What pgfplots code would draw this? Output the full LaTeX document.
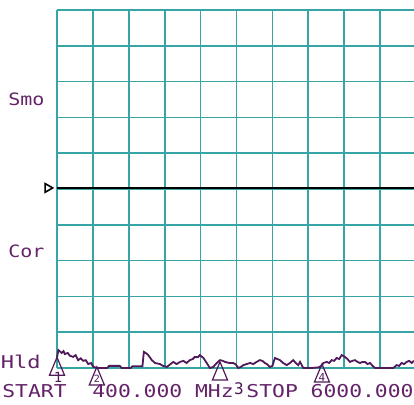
\documentclass[border=0pt]{standalone}
\usepackage{graphicx}
\usepackage{pgfplots}
\pgfplotsset{compat=1.18}
\usepackage{fontspec}
\newfontfamily\mono{DejaVu Sans Mono}
\definecolor{gridc}{RGB}{55,165,165}
\definecolor{txt}{RGB}{100,35,105}
\definecolor{trace}{RGB}{80,25,90}
\begin{document}
\begin{tikzpicture}
\path[use as bounding box] (-28.5pt,-18pt) rectangle (178.5pt,184pt);
\begin{axis}[
  anchor=origin, at={(0pt,0pt)},
  x=17.95pt, y=17.9pt,
  xmin=0, xmax=9.94, ymin=0, ymax=10,
  xtick={0,...,9}, ytick={0,...,10},
  xticklabels={}, yticklabels={},
  tick style={draw=none},
  axis line style={draw=none},
  grid=major,
  major grid style={draw=gridc, line width=0.85pt},
  clip=false,
]
\addplot[black, line width=1pt] coordinates {(0,5.03) (9.94,5.03)};
\addplot[black, only marks, mark=triangle, mark size=2.5pt,
  mark options={rotate=-90, line width=0.8pt}] coordinates {(-0.26,5.03)};
\addplot[trace, line width=0.9pt] coordinates {
(0,0.30) (0.04,0.50) (0.13,0.42) (0.18,0.47) (0.22,0.39) (0.30,0.42)
(0.36,0.34) (0.45,0.31) (0.52,0.36) (0.59,0.22) (0.66,0.27) (0.73,0.20)
(0.80,0.22) (0.87,0.11) (0.95,0.14) (1.01,0.03) (1.15,0.0) (1.40,0.0)
(1.45,0.06) (1.75,0.06) (1.80,0.0) (2.05,0.0) (2.10,0.05) (2.38,0.05)
(2.42,0.45) (2.50,0.40) (2.54,0.36) (2.60,0.28) (2.64,0.22) (2.73,0.14)
(2.87,0.11) (2.95,0.06) (3.06,0.03) (3.15,0.10) (3.24,0.17) (3.33,0.11)
(3.43,0.17) (3.52,0.20) (3.61,0.14) (3.70,0.22) (3.78,0.25) (3.84,0.31)
(3.92,0.30) (3.98,0.36) (4.08,0.28) (4.17,0.14) (4.26,0.00) (4.35,0.03)
(4.45,0.14) (4.54,0.22) (4.62,0.20) (4.68,0.17) (4.80,0.14) (4.91,0.14)
(4.98,0.10) (5.05,0.0) (5.12,0.03) (5.19,0.08) (5.28,0.11) (5.38,0.14)
(5.47,0.11) (5.56,0.17) (5.65,0.22) (5.72,0.20) (5.79,0.14) (5.86,0.10)
(5.93,0.03) (6.00,0.06) (6.07,0.28) (6.14,0.25) (6.21,0.22) (6.30,0.14)
(6.40,0.08) (6.49,0.14) (6.58,0.22) (6.65,0.14) (6.72,0.08) (6.77,0.17)
(6.86,0.0) (7.10,0.0) (7.30,0.02) (7.38,0.08) (7.42,0.14) (7.51,0.17)
(7.58,0.14) (7.65,0.22) (7.72,0.20) (7.79,0.28) (7.86,0.25) (7.93,0.36)
(8.02,0.31) (8.09,0.25) (8.16,0.17) (8.23,0.20) (8.30,0.22) (8.37,0.17)
(8.44,0.14) (8.51,0.17) (8.58,0.17) (8.65,0.11) (8.72,0.14) (8.79,0.06)
(8.86,0.0) (9.37,0.0) (9.46,0.08) (9.53,0.06) (9.60,0.14) (9.67,0.11)
(9.74,0.17) (9.81,0.20) (9.88,0.14) (9.94,0.20)
};
\addplot[only marks, mark=triangle, mark size=5pt,
  mark options={draw=trace, line width=0.6pt, yshift=-6pt, xscale=0.87, yscale=1.2}]
  coordinates {(0,0.3) (1.11,0.03) (4.54,0.17) (7.38,0.11)};
\end{axis}
\node[anchor=base west, inner sep=0, text=txt, font=\mono\fontsize{10}{10}\selectfont]
  at (-24.5pt,131.5pt) {\scalebox{1}[0.85]{Smo}};
\node[anchor=base west, inner sep=0, text=txt, font=\mono\fontsize{10}{10}\selectfont]
  at (-24.5pt,55.5pt) {\scalebox{1}[0.85]{Cor}};
\node[anchor=base west, inner sep=0, text=txt, font=\mono\fontsize{11}{11}\selectfont]
  at (-28.2pt,0pt) {\scalebox{1}[0.8]{Hld}};
\node[anchor=base west, inner sep=0, text=txt, font=\mono\fontsize{10.67}{10.67}\selectfont]
  at (-27.5pt,-14.5pt) {\scalebox{1}[0.83]{START~~400.000~MHz~STOP~6000.000}};
\node[anchor=base, inner sep=0, text=trace, font=\mono\fontsize{7}{7}\selectfont]
  at (0.5pt,-7pt) {1};
\node[anchor=base, inner sep=0, text=trace, font=\mono\fontsize{5}{5}\selectfont]
  at (20pt,-7.3pt) {2};
\node[anchor=base, inner sep=0, text=trace, font=\mono\fontsize{8}{8}\selectfont]
  at (91pt,-13pt) {3};
\node[anchor=base, inner sep=0, text=trace, font=\mono\fontsize{5.5}{5.5}\selectfont]
  at (132.5pt,-6.8pt) {4};
\end{tikzpicture}
\end{document}
